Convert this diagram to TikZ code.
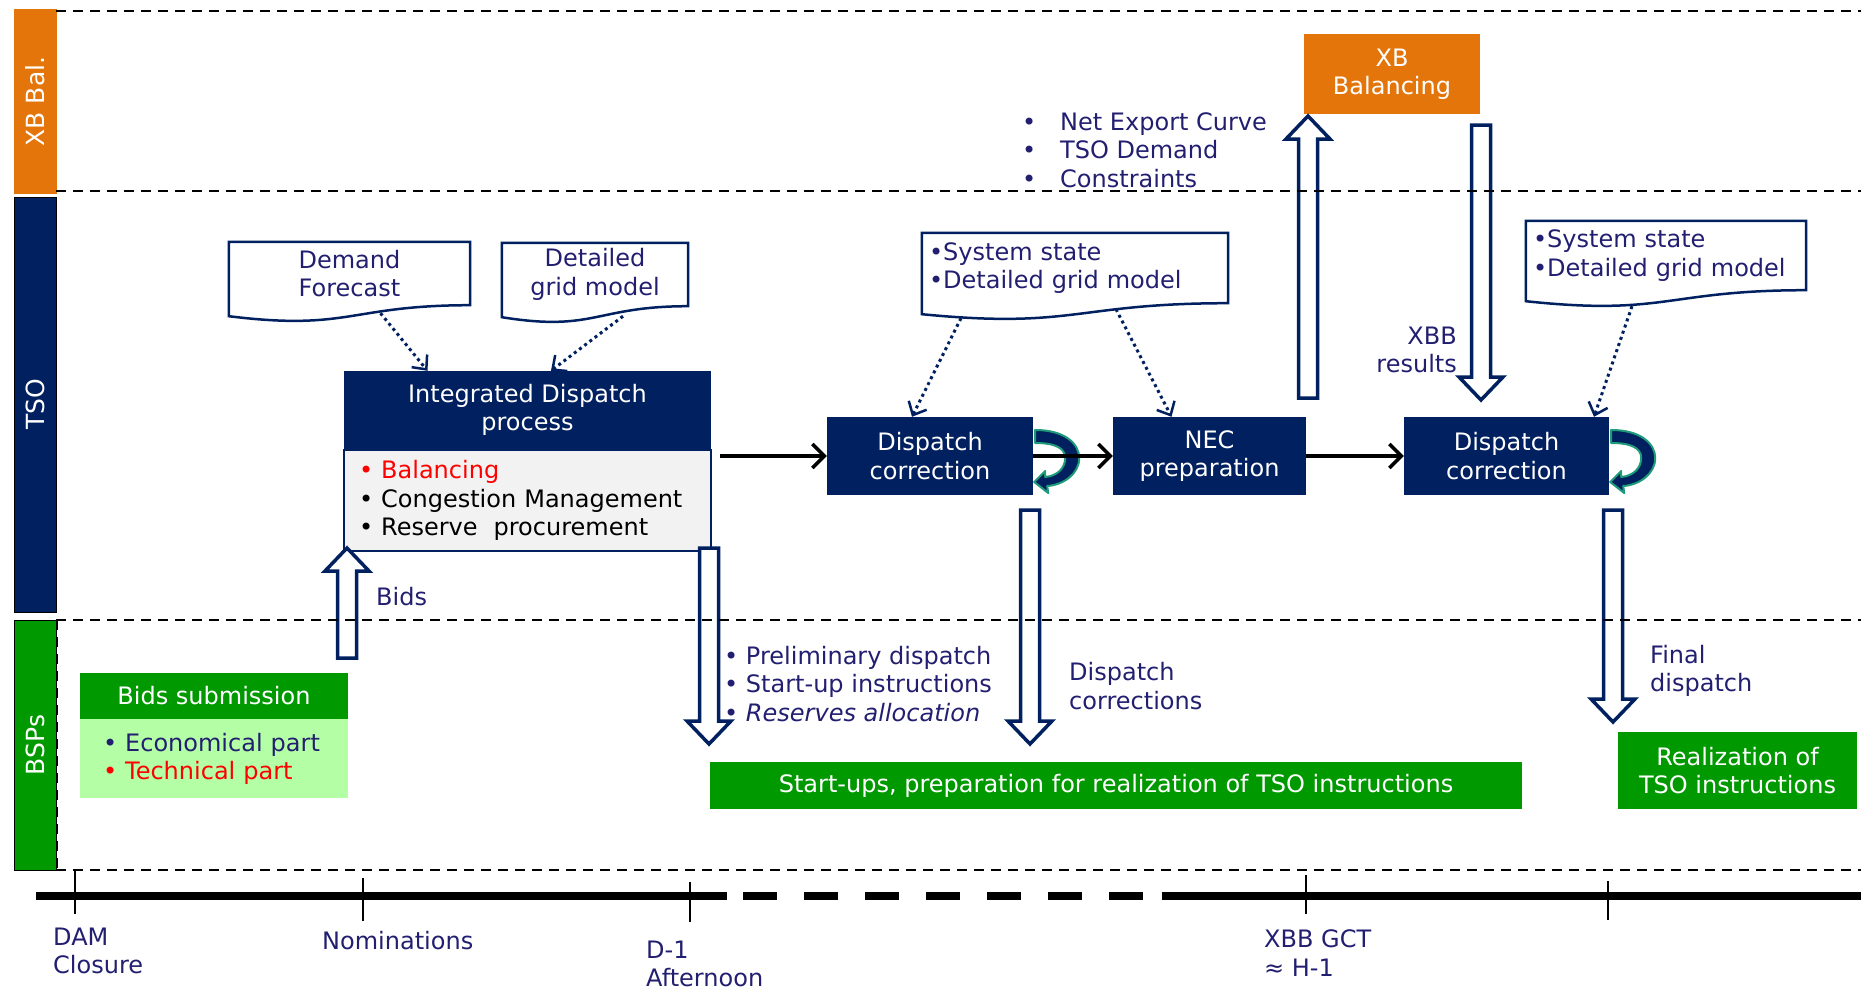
\documentclass[tikz,border=0pt]{standalone}
\usepackage{fontspec}
\setmainfont{DejaVu Sans}
\usepackage{tikz}
\usetikzlibrary{arrows.meta, positioning, calc}
\definecolor{navy}{RGB}{0,32,96}
\definecolor{xborange}{RGB}{227,117,10}
\definecolor{bspgreen}{RGB}{0,153,0}
\definecolor{lightgreen}{RGB}{180,255,165}
\definecolor{inkblue}{RGB}{35,31,112}
\definecolor{loopteal}{RGB}{30,155,120}
\definecolor{boxgray}{RGB}{242,242,242}
\newcommand{\fnt}{\fontsize{24}{28.5}\selectfont}

\tikzset{
  selfloop/.pic={
    \fill[navy, draw=loopteal, line width=2pt, line join=round]
      (2,-26) .. controls (32,-26) and (46,-12) .. (46,2)
      .. controls (46,18) and (30,29) .. (14,30)
      -- (15,37) -- (1,26) -- (12,15) -- (12,21)
      .. controls (24,20) and (32,12) .. (32,2)
      .. controls (32,-8) and (22,-13) .. (2,-13) -- cycle;
  }
}

\begin{document}
\begin{tikzpicture}[x=1pt, y=-1pt,
  every node/.style={font=\fnt, inner sep=0pt},
  band/.style={draw=black, line width=1pt, minimum height=42, text=white, font=\fontsize{25}{30}\selectfont},
  lane/.style={line width=2.5pt, dash pattern=on 10pt off 7pt},
  navybox/.style={fill=navy, text=white, align=center},
  greenbox/.style={fill=bspgreen, text=white, align=center},
  docbox/.style={text=inkblue, align=center},
  docline/.style={draw=navy, line width=2.5pt},
  note/.style={text=inkblue, align=left},
  dotarrow/.style={navy, line width=3pt, dash pattern=on 3pt off 3.5pt, -{Straight Barb[length=11pt, width=20pt, line width=2.5pt]}},
  flowarrow/.style={black, line width=3.5pt, -{Straight Barb[length=12pt, width=24pt]}},
  fatarrow/.style={draw=navy, line width=3.5pt, fill=white, line join=miter},
  tickmark/.style={black, line width=1.5pt}
]
\useasboundingbox (0,0) rectangle (1861,990);

% swim lanes
\node[band, fill=xborange, draw=xborange, minimum width=183, rotate=90] (bandXB) at (35,101.5) {XB Bal.};
\node[band, fill=navy, minimum width=415, rotate=90] (bandTSO) at (35,404.5) {TSO};
\node[band, fill=bspgreen, minimum width=250, rotate=90] (bandBSP) at (35,745) {BSPs};

% XB balancing
\node[fill=xborange, text=white, align=center, minimum width=176, minimum height=80] (xbb) at (1392,74) {XB\\Balancing};
\node[note, anchor=west] (neclist) at (1022,150) {\makebox[38pt][l]{•}Net Export Curve\\\makebox[38pt][l]{•}TSO Demand\\\makebox[38pt][l]{•}Constraints};

% input documents
\node[docbox, minimum width=241, minimum height=63] (docDF) at (349.5,273.5) {Demand\\Forecast};
\node[docbox, minimum width=186, minimum height=63] (docGM) at (595,274.5) {Detailed\\grid model};
\node[docbox, align=left, text width=292, inner xsep=7, minimum height=70] (docSS) at (1075,268) {•System state\\•Detailed grid model};
\node[docbox, align=left, text width=266, inner xsep=7, minimum height=69] (docSSb) at (1666,255.5) {•System state\\•Detailed grid model};
\foreach \d in {docDF, docGM, docSS, docSSb} {
  \draw[docline] (\d.north west) -- (\d.north east) -- (\d.south east)
    .. controls (\d.south) and ($(\d.south)+(0,26)$) .. ($(\d.south west)+(0,11)$) -- cycle;
}

% TSO processes
\node[navybox, minimum width=367, minimum height=78] (idph) at (527.5,410) {Integrated Dispatch\\process};
\node[draw=navy, line width=1.5pt, fill=boxgray, anchor=north, text width=337, inner xsep=15, align=left, minimum height=101] (idpb) at (idph.south)
  {\textcolor{red}{• Balancing}\\• Congestion Management\\• Reserve~ procurement};
\node[navybox, minimum width=206, minimum height=78] (dcA) at (930,456) {Dispatch\\correction};
\node[navybox, minimum width=193, minimum height=78] (nec) at (1209.5,456) {NEC\\preparation};
\node[navybox, minimum width=205, minimum height=78] (dcB) at (1506.5,456) {Dispatch\\correction};
\pic at (dcA.east) {selfloop};
\pic at (dcB.east) {selfloop};

\draw[flowarrow] ($(idph.east |- dcA.west)+(9,0)$) -- (dcA.west);
\draw[flowarrow] (dcA.east) -- (nec.west);
\draw[flowarrow] (nec.east) -- (dcB.west);

\draw[dotarrow] ($(docDF.south)+(31,8)$) -- ($(idph.north)+(-100,0)$);
\draw[dotarrow] ($(docGM.south)+(28,10)$) -- ($(idph.north)+(23.5,0)$);
\draw[dotarrow] ($(docSS.south)+(-114,15)$) -- ($(dcA.north)+(-18,0)$);
\draw[dotarrow] ($(docSS.south)+(41,6)$) -- ($(nec.north)+(-38,0)$);
\draw[dotarrow] ($(docSSb.south)+(-34,16)$) -- ($(dcB.north)+(87.5,0)$);

% BSP side
\node[greenbox, minimum width=268, minimum height=46] (bidsh) at (214,696) {Bids submission};
\node[fill=lightgreen, anchor=north, text width=222, inner xsep=23, align=left, minimum height=79] (bidsb) at (bidsh.south)
  {\textcolor{inkblue}{• Economical part}\\\textcolor{red}{• Technical part}};
\node[greenbox, minimum width=812, minimum height=47] (startups) at (1116,785.5) {Start-ups, preparation for realization of TSO instructions};
\node[greenbox, minimum width=239, minimum height=77] (realiz) at (1737.5,770.5) {Realization of\\TSO instructions};

% hollow arrows
\foreach \x/\ys/\yt in {347/658/548, 709/548/744, 1030/510/744, 1308/398/116, 1481/125/400, 1613/510/722} {
  \pgfmathsetmacro{\dir}{sign(\yt-\ys)}
  \draw[fatarrow] ({\x-9.5},\ys) -- ({\x-9.5},{\yt-(\dir)*23}) -- ({\x-22},{\yt-(\dir)*23}) -- (\x,\yt)
    -- ({\x+22},{\yt-(\dir)*23}) -- ({\x+9.5},{\yt-(\dir)*23}) -- ({\x+9.5},\ys) -- cycle;
}

\node[note, anchor=west] (bidsnote) at (376,597) {Bids};
\node[note, anchor=west] (prelim) at (724,684) {• Preliminary dispatch\\• Start-up instructions\\• \textit{Reserves allocation}};
\node[note, anchor=west] (dcnote) at (1069,686) {Dispatch\\corrections};
\node[note, anchor=east, align=right] (xbbres) at (1457,350) {XBB\\results};
\node[note, anchor=west] (finalnote) at (1650,671) {Final\\dispatch};

% lane separators
\foreach \y in {11,191,620,870}
  \draw[lane] (56,\y) -- (1861,\y);
\draw[lane] (57,620) -- (57,870);

% time line
\draw[line width=8pt] (36,896) -- (727,896);
\draw[line width=8pt, dash pattern=on 34pt off 27pt] (743,896) -- (1143,896);
\draw[line width=8pt] (1162,896) -- (1861,896);
\foreach \x/\ya/\yb in {75/870/914, 363/878/921, 690/882/922, 1306/875/914, 1608/881/920}
  \draw[tickmark] (\x,\ya) -- (\x,\yb);

\node[note, anchor=west] (tlDAM) at (53,951) {DAM\\Closure};
\node[note, anchor=west] (tlNom) at (322,941) {Nominations};
\node[note, anchor=west] (tlD1) at (646,964) {D-1\\Afternoon};
\node[note, anchor=west] (tlGCT) at (1264,953) {XBB GCT\\≈ H-1};
\end{tikzpicture}
\end{document}
